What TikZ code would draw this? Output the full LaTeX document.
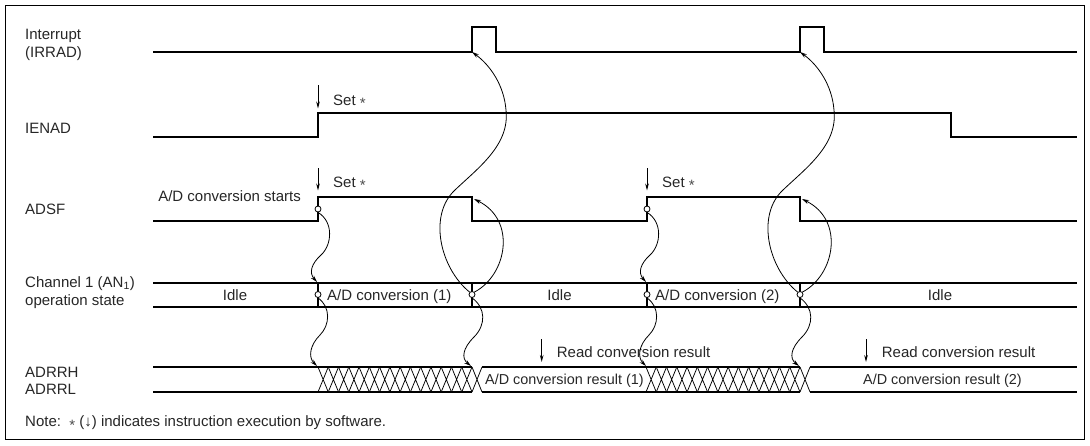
\documentclass[tikz,border=0pt]{standalone}
\usepackage{fontspec}
\setmainfont{Liberation Sans}
\usetikzlibrary{arrows.meta}
\newcommand\myast{{\color{black!70}\raisebox{-0.22em}{*}}}
\begin{document}
\begin{tikzpicture}[x=1pt,y=-1pt,
  sig/.style={line width=1.2pt, line join=miter},
  thin/.style={line width=0.75pt},
  lbl/.style={font=\fontsize{15}{18}\selectfont, text=black!85, inner sep=0pt},
  lbls/.style={font=\fontsize{14.4}{18}\selectfont, text=black!85, inner sep=0pt},
  ring/.style={circle, draw, line width=0.8pt, fill=white, minimum size=6pt, inner sep=0pt},
  curve/.style={line width=0.8pt, -{Stealth[length=7pt,width=4pt]}},
  setarrow/.style={line width=1pt, -{Stealth[length=7pt,width=3.6pt]}}]
\useasboundingbox (0,0) rectangle (1090,445);
\draw[line width=1.2pt] (5.5,5.5) rectangle (1084.5,439.5);

% ---------- labels ----------
\node[lbl, anchor=base west] (lint) at (25,39.3) {Interrupt};
\node[lbl, anchor=base west] (lirr) at (25,57.3) {(IRRAD)};
\node[lbl, anchor=base west] (lien) at (25,133.3) {IENAD};
\node[lbl, anchor=base west] (ladsf) at (25,214.5) {ADSF};
\node[lbl, anchor=base east] (lstart) at (301,201.5) {A/D conversion starts};
\node[lbl, anchor=base west] (lch) at (25,287.5) {Channel 1 (AN\textsubscript{1})};
\node[lbl, anchor=base west] (lop) at (25,305.5) {operation state};
\node[lbl, anchor=base west] (lh) at (25,377) {ADRRH};
\node[lbl, anchor=base west] (ll) at (25,394) {ADRRL};
\node[lbl, anchor=base west] (note) at (25,426.7) {Note:\ \ \myast\ (↓) indicates instruction execution by software.};

% ---------- Interrupt ----------
\draw[sig] (153,52) -- (472,52) -- (472,27) -- (496,27) -- (496,52) -- (800,52) -- (800,27) -- (824,27) -- (824,52) -- (1077,52);
\coordinate (irq1) at (472,52);
\coordinate (irq2) at (800,52);

% ---------- IENAD ----------
\draw[sig] (153,137) -- (318,137) -- (318,113) -- (951,113) -- (951,137) -- (1077,137);
\coordinate (s0a) at (318,85); \coordinate (s0b) at (318,108.5);
\draw[setarrow] (s0a) -- (s0b);
\node[lbl, anchor=base west] (set0) at (333,105) {Set \myast};

% ---------- ADSF ----------
\draw[sig] (153,221) -- (318,221) -- (318,197) -- (472,197) -- (472,221) -- (647,221) -- (647,197) -- (800,197) -- (800,221) -- (1077,221);
\coordinate (s1a) at (318,168); \coordinate (s1b) at (318,190.5);
\draw[setarrow] (s1a) -- (s1b);
\node[lbl, anchor=base west] (set1) at (333,187.3) {Set \myast};
\coordinate (s2a) at (647,168); \coordinate (s2b) at (647,190.5);
\draw[setarrow] (s2a) -- (s2b);
\node[lbl, anchor=base west] (set2) at (662,187.3) {Set \myast};
\coordinate (fall1) at (474,199);
\coordinate (fall2) at (802,199);

% ---------- Channel 1 operation state ----------
\draw[sig] (153,283) -- (1077,283);
\draw[sig] (153,307) -- (1077,307);
\foreach \x in {318,472,647,800} \draw[sig] (\x,283) -- (\x,307);
\node[lbl, anchor=base] (idle1) at (235,300) {Idle};
\node[lbl, anchor=base west] (conv1) at (327,300) {A/D conversion (1)};
\node[lbl, anchor=base] (idle2) at (559.5,300) {Idle};
\node[lbl, anchor=base west] (conv2) at (655,300) {A/D conversion (2)};
\node[lbl, anchor=base] (idle3) at (940,300) {Idle};
\coordinate (ch1) at (317,282);
\coordinate (ch2) at (646,282);

% ---------- ADRRH / ADRRL ----------
\draw[sig] (153,367) -- (472,367) (153,392) -- (472,392);
\draw[sig] (482,367) -- (800,367) (482,392) -- (800,392);
\draw[sig] (810,367) -- (1077,367) (810,392) -- (1077,392);
\draw[thin] (472,367) -- (482,392) (472,392) -- (482,367);
\draw[thin] (800,367) -- (810,392) (800,392) -- (810,367);
\foreach \s in {318,646}{
  \foreach \i in {0,...,14}{
    \pgfmathsetmacro\xa{\s+\i*154/15}
    \pgfmathsetmacro\xb{\s+(\i+1)*154/15}
    \draw[thin] (\xa,367) -- (\xb,392) (\xa,392) -- (\xb,367);
  }
}
\node[lbls, anchor=base west] (res1) at (485,384) {A/D conversion result (1)};
\node[lbls, anchor=base west] (res2) at (863,384) {A/D conversion result (2)};
\coordinate (r1a) at (541.7,339); \coordinate (r1b) at (541.7,362);
\draw[setarrow] (r1a) -- (r1b);
\node[lbl, anchor=base west] (read1) at (556.7,357.3) {Read conversion result};
\coordinate (r2a) at (866,339); \coordinate (r2b) at (866,362);
\draw[setarrow] (r2a) -- (r2b);
\node[lbl, anchor=base west] (read2) at (881.7,357.3) {Read conversion result};
\coordinate (bus1) at (317,366);
\coordinate (bus2) at (471,366);
\coordinate (bus3) at (646,366);
\coordinate (bus4) at (799,366);

% ---------- rings ----------
\node[ring] (a1) at (318,209) {};
\node[ring] (a2) at (318,294.5) {};
\node[ring] (b1) at (472,294.5) {};
\node[ring] (a3) at (647,209) {};
\node[ring] (a4) at (647,294.5) {};
\node[ring] (b2) at (800,294.5) {};

% ---------- causal curves, cycle 1 ----------
\draw[curve] (a1.south) .. controls (334,222) and (332,245) .. (321,255) .. controls (311,264) and (309,273) .. (ch1);
\draw[curve] (a2.south) .. controls (331,307) and (330,325) .. (320,335) .. controls (310,345) and (308,357) .. (bus1);
\draw[curve] (b1.north east) .. controls (507,275) and (517,220) .. (fall1);
\draw[curve] (b1.north west) .. controls (440,268) and (428,215) .. (455,190) .. controls (478,168) and (510,145) .. (506,110) .. controls (504,85) and (490,65) .. (irq1);
\draw[curve] (b1.south) .. controls (486,308) and (486,325) .. (474,337) .. controls (463,348) and (461,358) .. (bus2);

% ---------- causal curves, cycle 2 ----------
\draw[curve] (a3.south) .. controls (663,222) and (661,245) .. (650,255) .. controls (640,264) and (638,273) .. (ch2);
\draw[curve] (a4.south) .. controls (660,307) and (659,325) .. (649,335) .. controls (639,345) and (637,357) .. (bus3);
\draw[curve] (b2.north east) .. controls (835,275) and (845,220) .. (fall2);
\draw[curve] (b2.north west) .. controls (768,268) and (756,215) .. (783,190) .. controls (806,168) and (838,145) .. (834,110) .. controls (832,85) and (818,65) .. (irq2);
\draw[curve] (b2.south) .. controls (814,308) and (814,325) .. (802,337) .. controls (791,348) and (789,358) .. (bus4);
\end{tikzpicture}
\end{document}
